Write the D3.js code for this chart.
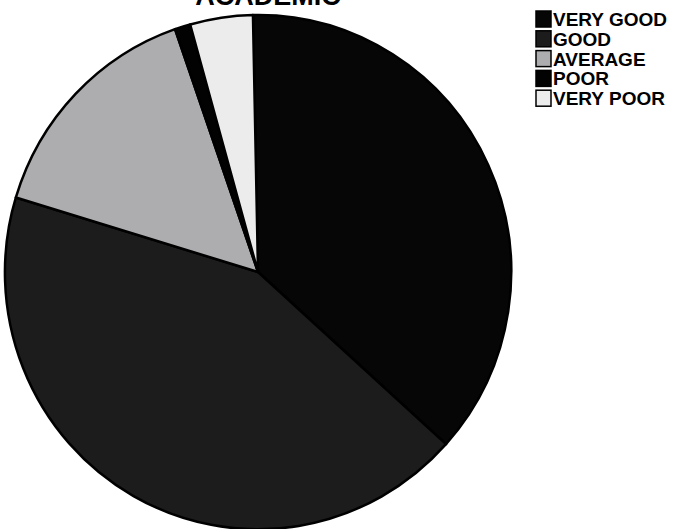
<!DOCTYPE html>
<html>
<head>
<meta charset="utf-8">
<script src="https://cdn.jsdelivr.net/npm/d3@7"></script>
<style>
  html, body { margin: 0; padding: 0; background: #ffffff; }
  svg { display: block; }
</style>
</head>
<body>
<svg id="chart" width="676" height="529"></svg>
<script>
const categories = ["VERY GOOD", "GOOD", "AVERAGE", "POOR", "VERY POOR"];
const values = [37, 43, 15, 1, 4];
const colors = ["#060606", "#1c1c1c", "#adadb0", "#020202", "#ececec"];
const title = "ACADEMIC";

const svg = d3.select("#chart");

const cx = 258, cy = 272, rx = 253, ry = 257;

const pie = d3.pie().sort(null).value(d => d)
  .startAngle(-0.02).endAngle(2 * Math.PI - 0.02);
const arcs = pie(values);
const arc = d3.arc().innerRadius(0).outerRadius(1);

const g = svg.append("g").attr("transform", `translate(${cx},${cy}) scale(${rx},${ry})`);
g.selectAll("path")
  .data(arcs)
  .enter().append("path")
  .attr("d", arc)
  .attr("fill", (d, i) => colors[i])
  .attr("stroke", "#000")
  .attr("stroke-width", 2.5)
  .attr("stroke-linejoin", "round")
  .attr("vector-effect", "non-scaling-stroke");

// title, cut off at the top edge as in the scanned reference
svg.append("text")
  .attr("x", 268).attr("y", 5)
  .attr("text-anchor", "middle")
  .attr("font-family", "Liberation Sans, Arial, sans-serif")
  .attr("font-weight", "bold")
  .attr("font-size", 27)
  .attr("fill", "#000")
  .text(title);

// legend
const lg = svg.append("g").attr("transform", "translate(536,10)");
const rowH = 19.8;
const rows = lg.selectAll("g").data(categories).enter().append("g")
  .attr("transform", (d, i) => `translate(0,${i * rowH})`);
rows.append("rect")
  .attr("x", 0).attr("y", 1).attr("width", 15).attr("height", 16)
  .attr("fill", (d, i) => colors[i])
  .attr("stroke", "#000").attr("stroke-width", 1.5);
rows.append("text")
  .attr("x", 17).attr("y", 16)
  .attr("font-family", "Liberation Sans, Arial, sans-serif")
  .attr("font-weight", "bold")
  .attr("font-size", 19)
  .attr("fill", "#000")
  .text(d => d);
</script>
</body>
</html>
